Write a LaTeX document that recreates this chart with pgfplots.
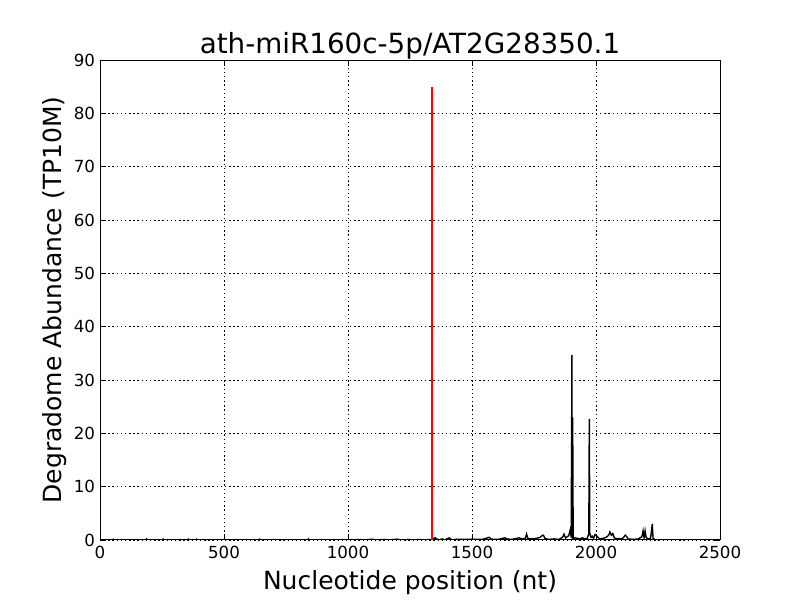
\documentclass[border=0pt]{standalone}
\usepackage{fontspec}
\setmainfont{DejaVu Sans}
\usepackage{pgfplots}
\pgfplotsset{compat=1.18}
\pgfplotstableread{
x y
0 0
50 0
54 0.15
58 0
185 0
188 0.2
191 0
252 0
255 0.15
258 0
353 0
356 0.15
359 0
387 0
390 0.15
393 0
548 0
551 0.1
554 0
642 0
645 0.15
648 0
696 0
699 0.1
702 0
837 0
840 0.2
843 0
938 0
941 0.1
944 0
1010 0
1015 0.1
1020 0
1050 0.1
1060 0
1100 0.15
1110 0
1150 0.1
1160 0
1200 0.15
1210 0
1250 0.1
1260 0
1290 0.1
1300 0
1330 0.1
1338 0
1345 0.3
1352 0.4
1358 0.2
1365 0
1380 0.2
1390 0
1408 0.4
1414 0.2
1420 0
1440 0.15
1450 0.1
1470 0.1
1500 0.15
1520 0.1
1545 0.15
1570 0.5
1576 0.2
1590 0.1
1610 0.15
1632 0.4
1640 0.2
1660 0.1
1690 0.4
1700 0.2
1715 0.3
1720 1.1
1725 0.3
1740 0.2
1760 0.3
1775 0.5
1782 0.8
1788 0.9
1794 0.3
1810 0.1
1830 0.2
1850 0.1
1865 0.5
1871 1.1
1877 0.4
1890 0.8
1896 1.9
1900 0.5
1903 34.7
1904 0.3
1906 23
1908 0.2
1915 0.4
1925 0.3
1935 0.2
1945 0.4
1955 0.2
1965 0.3
1971 1.2
1973 22.7
1975 1.2
1980 0.5
1985 0.7
1990 0.3
1996 1.0
2002 0.8
2008 0.5
2015 0.2
2030 0.3
2045 0.6
2052 1.0
2056 1.5
2062 0.9
2068 1.2
2074 0.4
2085 0.2
2100 0.2
2110 0.4
2118 0.9
2124 0.6
2130 0.2
2150 0.1
2170 0.2
2185 0.6
2190 1.7
2194 0.4
2198 1.7
2202 0.5
2210 0.2
2220 0.3
2227 3.0
2230 0.3
2240 0
}\degdata
\pgfplotstableread{
x y
1339 0
1339 85
}\reddata
\begin{document}
\begin{tikzpicture}
\begin{axis}[
  scale only axis,
  width=446.4pt, height=345.6pt,
  xmin=0, xmax=2500, ymin=0, ymax=90,
  xtick={0,500,1000,1500,2000,2500},
  ytick={0,10,20,30,40,50,60,70,80,90},
  tick align=inside,
  tick pos=both,
  major tick length=4pt,
  minor tick num=0,
  axis line style={black, line width=0.7pt},
  tick style={black, line width=0.6pt},
  grid=major,
  major grid style={black, line width=0.5pt, dash pattern=on 1pt off 2pt},
  /pgf/number format/assume math mode=true,
  /pgf/number format/1000 sep={},
  ticklabel style={font=\fontsize{12}{14}\selectfont},
  xticklabel style={yshift=-1pt},
  title={ath-miR160c-5p/AT2G28350.1},
  title style={font=\fontsize{20}{24}\selectfont, yshift=-9pt},
  xlabel={Nucleotide position (nt)},
  ylabel={Degradome Abundance (TP10M)},
  xlabel style={font=\fontsize{18}{22}\selectfont, yshift=-1.5pt},
  ylabel style={font=\fontsize{18}{22}\selectfont, yshift=-2pt},
  clip=true,
]
\addplot[black, line width=1pt, line join=miter] table[x=x,y=y] {\degdata};
\addplot[red, line width=1.3pt] table[x=x,y=y] {\reddata};
\end{axis}
\pgfresetboundingbox
\path[use as bounding box] ([shift={(-72pt,-43.2pt)}]current axis.south west) rectangle ([shift={(57.6pt,43.2pt)}]current axis.north east);
\end{tikzpicture}
\end{document}
